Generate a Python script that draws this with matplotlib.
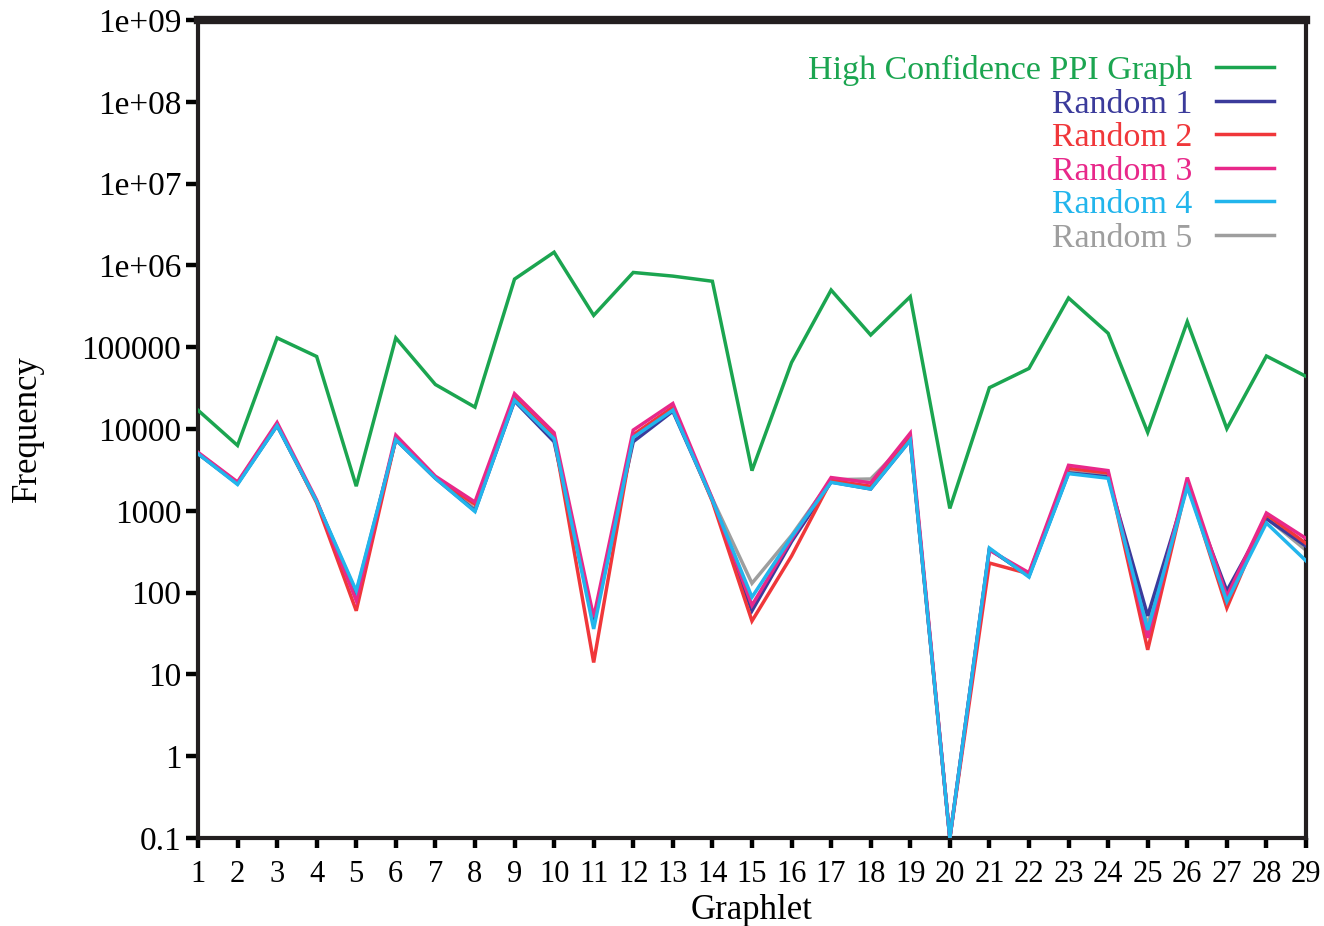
import matplotlib
matplotlib.use("Agg")
import matplotlib.pyplot as plt

plt.rcParams['font.family'] = ['Liberation Serif', 'DejaVu Serif']

# data
graphlets = list(range(1, 30))
ppi = [17000, 6300, 130000, 77000, 2000, 130000, 35000, 18500, 680000, 1450000,
       245000, 820000, 740000, 640000, 3100, 65000, 500000, 141000, 415000, 1070,
       32000, 55000, 400000, 148000, 9100, 205000, 10100, 78000, 44000]
rand1 = [5000, 2150, 11000, 1300, 95, 7400, 2500, 1000, 22000, 7000,
         45, 7000, 16500, 1350, 60, 420, 2250, 1850, 7300, 0.1,
         340, 160, 2900, 2600, 52, 2000, 105, 800, 370]
rand2 = [5100, 2200, 11500, 1250, 60, 7600, 2550, 1200, 24000, 8000,
         14, 8500, 18500, 1300, 45, 280, 2350, 2000, 7800, 0.1,
         230, 170, 3300, 2900, 20, 2200, 65, 900, 400]
rand3 = [5200, 2250, 12000, 1350, 80, 8400, 2650, 1280, 27000, 9000,
         50, 9700, 20500, 1400, 70, 450, 2550, 2200, 8900, 0.1,
         330, 175, 3600, 3100, 28, 2550, 90, 940, 460]
rand4 = [5000, 2100, 11000, 1300, 105, 7400, 2500, 980, 22500, 7600,
         36, 7900, 17000, 1350, 88, 480, 2230, 1850, 7300, 0.1,
         350, 155, 2850, 2500, 35, 1950, 78, 710, 245]
rand5 = [5000, 2150, 11200, 1300, 100, 7600, 2550, 1050, 23500, 7800,
         40, 8200, 17500, 1400, 130, 500, 2400, 2450, 7600, 0.1,
         340, 160, 3000, 2700, 40, 2100, 90, 820, 330]

series = [
    ("High Confidence PPI Graph", ppi, "#1ba550", 3),
    ("Random 1", rand1, "#3b3b9b", 4),
    ("Random 2", rand2, "#f0373a", 5),
    ("Random 3", rand3, "#e8288a", 6),
    ("Random 4", rand4, "#22b5ec", 7),
    ("Random 5", rand5, "#9e9e9e", 2),
]

ytick_vals = [0.1, 1, 10, 100, 1000, 10000, 100000, 1e6, 1e7, 1e8, 1e9]
ytick_labels = ["0.1", "1", "10", "100", "1000", "10000", "100000",
                "1e+06", "1e+07", "1e+08", "1e+09"]

fig = plt.figure(figsize=(13.24, 9.26), dpi=100)
ax = fig.add_axes([0.1495, 0.095, 0.8369, 0.8834])

for name, vals, col, z in series:
    ax.plot(graphlets, vals, color=col, lw=2.5, label=name, zorder=z,
            solid_joinstyle='miter')

ax.set_yscale('log')
ax.set_ylim(0.1, 1e9)
ax.set_xlim(1, 29)
ax.set_yticks(ytick_vals)
ax.set_yticklabels(ytick_labels)
ax.minorticks_off()
ax.set_xticks(graphlets)
ax.set_xticklabels([str(g) for g in graphlets])

ax.tick_params(axis='y', direction='out', length=9, width=3.2, labelsize=24, pad=3)
ax.tick_params(axis='x', direction='out', length=7, width=3.2, labelsize=22, pad=9)
for s in ['left', 'bottom', 'right']:
    ax.spines[s].set_linewidth(3)
ax.spines['top'].set_linewidth(6)
for s in ax.spines.values():
    s.set_color('#231f20')

ax.set_xlabel("Graphlet", fontsize=25)
ax.set_ylabel("Frequency", fontsize=25)
ax.xaxis.set_label_coords(0.5, -0.068)
ax.yaxis.set_label_coords(-0.139, 0.5)

leg = ax.legend(loc='upper right', bbox_to_anchor=(0.975, 0.959),
                bbox_transform=fig.transFigure, frameon=False, markerfirst=False,
                fontsize=24.5, labelcolor='linecolor', handlelength=1.7,
                handletextpad=0.7, labelspacing=0.08, borderpad=0)

fig.savefig("out.png", dpi=100)
